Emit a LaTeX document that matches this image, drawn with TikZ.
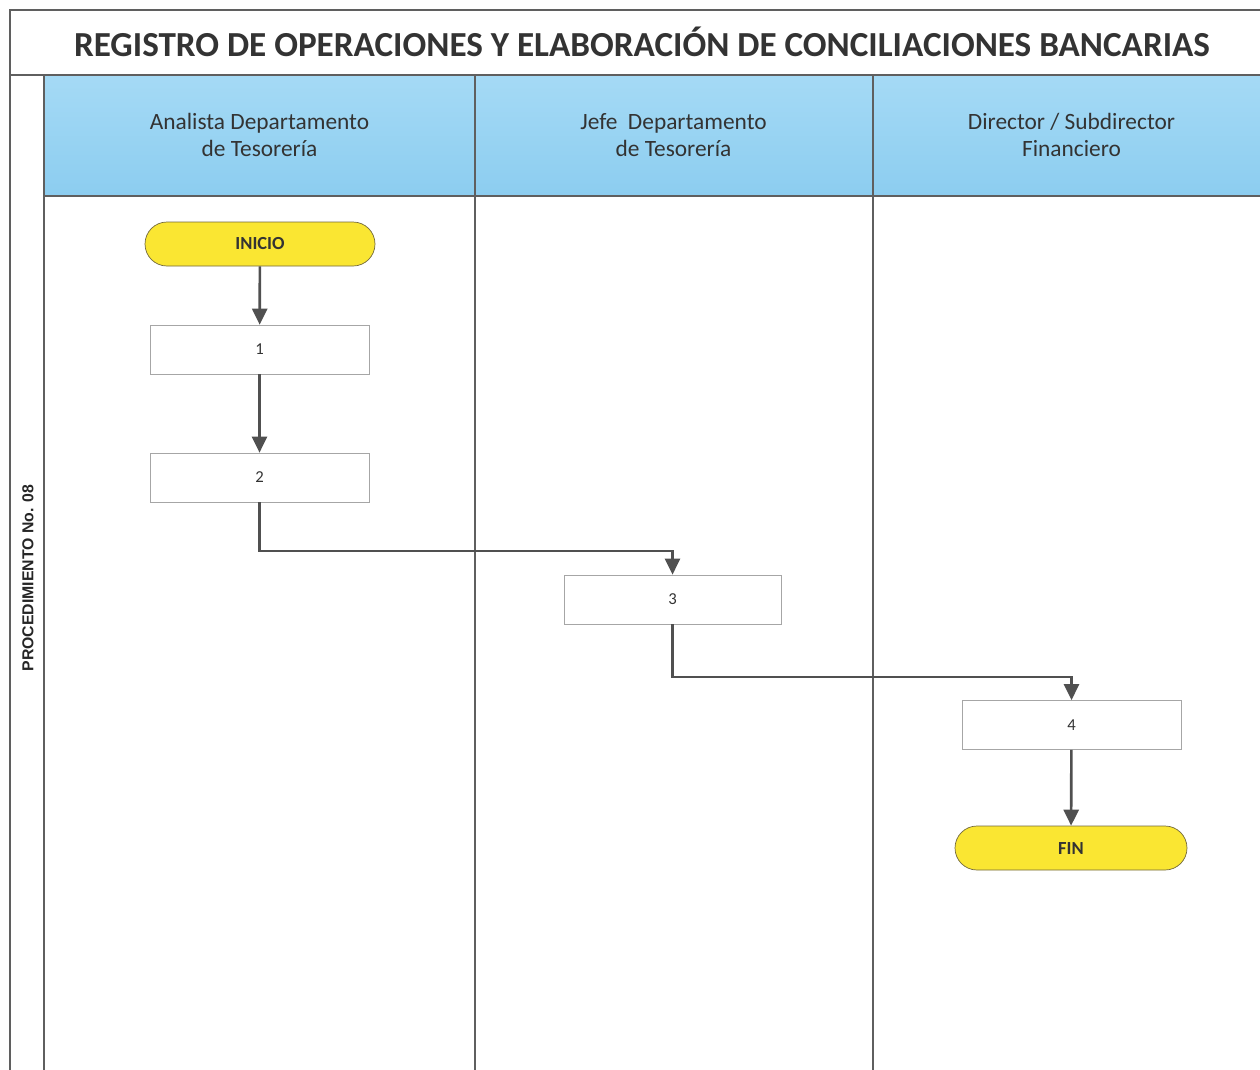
\documentclass[tikz,border=0pt]{standalone}
\usepackage{fontspec}
\setmainfont{Carlito}
\newfontfamily\arialfont{Liberation Sans}
\usetikzlibrary{arrows.meta}
\definecolor{carril}{RGB}{140,205,240}
\definecolor{carrilclaro}{RGB}{165,218,245}
\definecolor{pastilla}{RGB}{250,230,50}
\definecolor{bordepastilla}{RGB}{115,105,60}
\definecolor{flecha}{RGB}{80,80,80}
\definecolor{linea}{RGB}{95,95,95}
\tikzset{
  paso/.style={draw=gray!70,fill=white,minimum width=4.38cm,minimum height=0.98cm,font=\fontsize{9.5}{11}\selectfont,text=black!80},
  terminal/.style={draw=bordepastilla,fill=pastilla,rounded corners=0.44cm,minimum height=0.88cm,font=\fontsize{10.5}{12}\selectfont\bfseries,text=black!80},
  conector/.style={draw=flecha,line width=1.5pt,-{Triangle[width=0.3cm,length=0.32cm]}},
  titulo/.style={font=\fontsize{13.3}{15}\selectfont,text=black!80,align=center}
}
\begin{document}
\begin{tikzpicture}

\useasboundingbox (0,0) rectangle (25.2,-21.38);
\fill[white] (0,0) rectangle (25.2,-21.38);
\begin{scope}
\clip (0,0) rectangle (25.2,-21.38);

\shade[top color=carrilclaro,bottom color=carril] (0.88,-1.5) rectangle (25.4,-3.92);
\draw[linea,line width=1pt] (0.2,-22) -- (0.2,-0.2) -- (25.4,-0.2);
\draw[linea,line width=1pt] (0.2,-1.5) -- (25.4,-1.5);
\draw[linea,line width=1pt] (0.88,-22) -- (0.88,-1.5);
\draw[linea,line width=1pt] (0.88,-3.92) -- (25.4,-3.92);
\draw[linea,line width=1pt] (9.5,-22) -- (9.5,-1.5);
\draw[linea,line width=1pt] (17.46,-22) -- (17.46,-1.5);

\node (titulo) at (12.84,-0.84) {\fontsize{20}{22}\selectfont\bfseries\color{black!80}REGISTRO DE OPERACIONES Y ELABORACIÓN DE CONCILIACIONES BANCARIAS};
\node[rotate=90] (procedimiento) at (0.56,-11.56) {\arialfont\fontsize{9}{11}\selectfont\bfseries\color{black!85}PROCEDIMIENTO No. 08};

\node[titulo] (analista) at (5.19,-2.7) {Analista Departamento\\de Tesorería};
\node[titulo] (jefe) at (13.47,-2.7) {Jefe\ \ Departamento\\de Tesorería};
\node[titulo] (director) at (21.43,-2.7) {Director / Subdirector\\Financiero};

\node[terminal,minimum width=4.6cm] (inicio) at (5.2,-4.88) {INICIO};
\node[paso] (p1) at (5.19,-6.99) {1};
\node[paso] (p2) at (5.19,-9.55) {2};
\node[paso,minimum width=4.34cm] (p3) at (13.45,-11.99) {3};
\node[paso] (p4) at (21.43,-14.5) {4};
\node[terminal,minimum width=4.64cm] (fin) at (21.42,-16.96) {FIN};

\draw[conector] (inicio) -- (p1);
\draw[conector] (p1) -- (p2);
\draw[conector] (p2.south) |- (13.45,-11.02) -- (p3.north);
\draw[conector] (p3.south) |- (21.43,-13.54) -- (p4.north);
\draw[conector] (p4) -- (fin);

\end{scope}
\end{tikzpicture}
\end{document}
